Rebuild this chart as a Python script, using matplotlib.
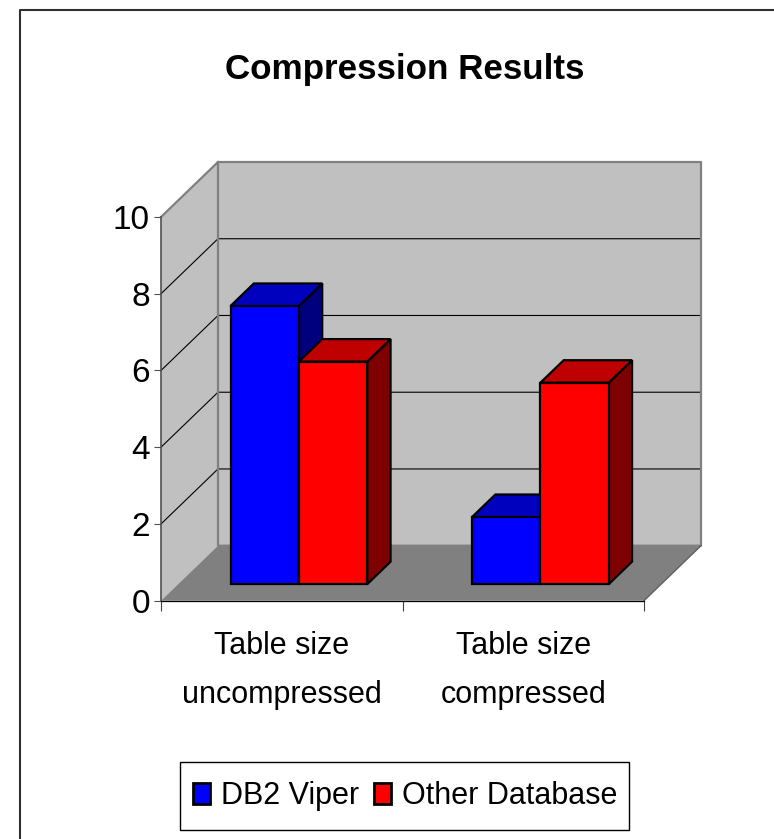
import matplotlib
matplotlib.use("Agg")
import matplotlib.pyplot as plt
from matplotlib.lines import Line2D
from matplotlib.patches import Patch, Polygon, Rectangle

plt.rcParams['font.family'] = ['Liberation Sans', 'DejaVu Sans']

# values
categories = ["Table size\nuncompressed", "Table size\ncompressed"]
series_names = ["DB2 Viper", "Other Database"]
db2_viper = [7.25, 1.75]
other_database = [5.8, 5.25]
y_ticks = [0, 2, 4, 6, 8, 10]

W, H = 774, 839
# fake 3d: how far the back wall is shifted, in data units
WALL_DX = 57 / 241.5
WALL_DY = 55 / 38.37
# bars sit part way into the floor
BAR_START = 0.30
BAR_DEPTH = 0.41
BAR_W = 0.283
BAR_GAP = 0.217

FRONT = {"DB2 Viper": "#0000ff", "Other Database": "#ff0000"}
TOP = {"DB2 Viper": "#0000bf", "Other Database": "#bf0000"}
SIDE = {"DB2 Viper": "#00007f", "Other Database": "#7f0000"}


# x, y in data units, d is depth from 0 (front) to 1 (back wall)
def project(x, y, d):
    return x + d * WALL_DX, y + d * WALL_DY


def face(ax, pts, color, edge="none", lw=0, z=1):
    poly = Polygon([project(*p) for p in pts], closed=True, facecolor=color,
                   edgecolor=edge, linewidth=lw, zorder=z, clip_on=False,
                   joinstyle="miter")
    ax.add_patch(poly)


def draw_walls(ax):
    top = y_ticks[-1]
    xmax = len(categories)
    face(ax, [(0, 0, 0), (0, top, 0), (0, top, 1), (0, 0, 1)], "#c0c0c0")
    face(ax, [(0, 0, 1), (0, top, 1), (xmax, top, 1), (xmax, 0, 1)], "#c0c0c0")
    face(ax, [(0, 0, 0), (0, 0, 1), (xmax, 0, 1), (xmax, 0, 0)], "#808080")

    # gridlines over side and back wall
    for v in y_ticks[1:-1]:
        xs, ys = zip(project(0, v, 0), project(0, v, 1), project(xmax, v, 1))
        ax.plot(xs, ys, color="black", lw=0.8, zorder=2, clip_on=False)

    # grey outline of the walls
    outline = [(0, top, 0), (0, top, 1), (xmax, top, 1), (xmax, 0, 1), (0, 0, 1), (0, top, 1)]
    xs, ys = zip(*[project(*p) for p in outline])
    ax.plot(xs, ys, color="#808080", lw=1.6, zorder=2, clip_on=False)
    xs, ys = zip(project(xmax, 0, 0), project(xmax, 0, 1))
    ax.plot(xs, ys, color="#606060", lw=1.0, zorder=2, clip_on=False)


def draw_bar(ax, x0, value, name):
    x1 = x0 + BAR_W
    d0, d1 = BAR_START, BAR_START + BAR_DEPTH
    base = 0
    kw = dict(edge="black", lw=1.6, z=3)
    face(ax, [(x1, base, d0), (x1, value, d0), (x1, value, d1), (x1, base, d1)], SIDE[name], **kw)
    face(ax, [(x0, value, d0), (x0, value, d1), (x1, value, d1), (x1, value, d0)], TOP[name], **kw)
    face(ax, [(x0, base, d0), (x0, value, d0), (x1, value, d0), (x1, base, d0)], FRONT[name], **kw)


fig = plt.figure(figsize=(W / 100, H / 100), dpi=100)
ax = fig.add_axes([161 / W, 1 - 600.7 / H, 483 / W, 383.7 / H], facecolor="none")
ax.set_xlim(0, len(categories))
ax.set_ylim(0, y_ticks[-1])

draw_walls(ax)
for i in range(len(categories)):
    x0 = i + BAR_GAP
    draw_bar(ax, x0, db2_viper[i], series_names[0])
    draw_bar(ax, x0 + BAR_W, other_database[i], series_names[1])

# axes
for s in ["top", "right"]:
    ax.spines[s].set_visible(False)
ax.spines["left"].set_color("#505050")
ax.spines["left"].set_linewidth(1.2)
ax.spines["bottom"].set_color("black")
ax.spines["bottom"].set_linewidth(0.9)
ax.spines["left"].set_zorder(4)
ax.spines["bottom"].set_zorder(4)
ax.set_yticks(y_ticks)
ax.tick_params(axis="y", labelsize=24, length=5, width=0.8, color="#505050", pad=3)
ax.set_xticks(range(len(categories) + 1))
ax.set_xticklabels([])
ax.tick_params(axis="x", which="major", length=7, width=0.8, color="#404040")
ax.set_xticks([i + 0.5 for i in range(len(categories))], minor=True)
ax.set_xticklabels(categories, minor=True, fontsize=22, linespacing=1.85)
ax.tick_params(axis="x", which="minor", length=0, pad=21.5)

fig.text(405 / W, 1 - 70 / H, "Compression Results", fontsize=25.2, fontweight="bold",
         ha="center", va="center")

# only left and top border of the chart area are visible
fig.add_artist(Line2D([20 / W, 20 / W, 1], [0, 1 - 10 / H, 1 - 10 / H], color="#303030", lw=1.5))

# legend box is drawn on its own, it is taller than the legend padding allows
fig.add_artist(Rectangle((180 / W, 1 - 830 / H), 449 / W, 68 / H, transform=fig.transFigure,
                         facecolor="white", edgecolor="black", linewidth=1.0))
handles = [Patch(facecolor=FRONT[n], edgecolor="black", linewidth=2.0) for n in series_names]
leg = fig.legend(handles, series_names, loc="center", bbox_to_anchor=(405 / W, 1 - 796 / H),
                 ncol=2, fontsize=22, frameon=False, handlelength=0.56, handleheight=0.69,
                 handletextpad=0.36, columnspacing=0.49, borderpad=0, borderaxespad=0)

plt.savefig("out.png", dpi=100)
